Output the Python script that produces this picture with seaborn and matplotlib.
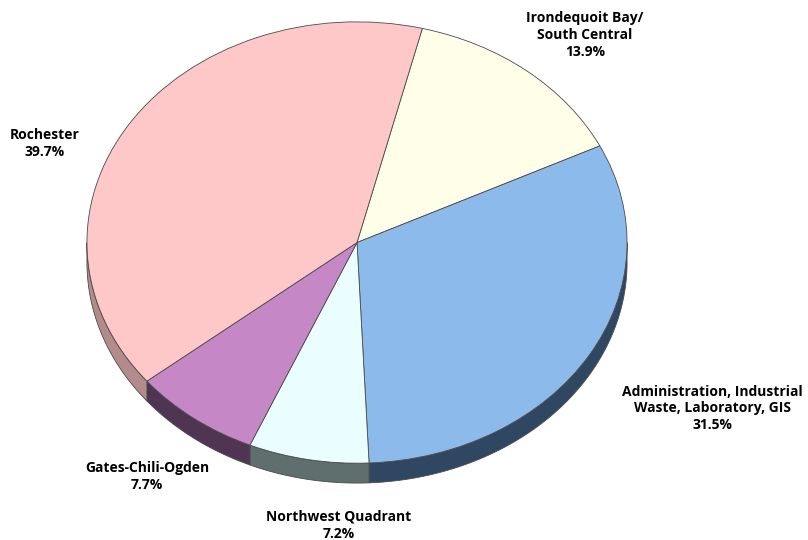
import numpy as np
import matplotlib
matplotlib.use("Agg")
import matplotlib.pyplot as plt
from matplotlib.patches import Polygon
import seaborn as sns

# Share of work by service area (percent)
regions = [
    "Irondequoit Bay/\nSouth Central",
    "Administration, Industrial\nWaste, Laboratory, GIS",
    "Northwest Quadrant",
    "Gates-Chili-Ogden",
    "Rochester",
]
shares = [13.9, 31.5, 7.2, 7.7, 39.7]

top_colors = ["#FFFFE9", "#8CBAEA", "#EAFEFF", "#C587C6", "#FFC8C8"]
side_colors = ["#9a9a86", "#2f4763", "#5f6f6d", "#4f3552", "#b38b8b"]

# label anchor points in pie units (x, y)
label_xy = [(0.844, 0.941), (1.315, -0.751), (-0.067, -1.281),
            (-0.778, -1.059), (-1.156, 0.448)]

sns.set_theme(style="white")
plt.rcParams["font.family"] = ["Open Sans", "DejaVu Sans"]

fig = plt.figure(figsize=(8.08, 5.4), dpi=100)
ax = fig.add_axes([0, 0, 1, 1])

start = 76.0
depth = 0.09
edge = "#4a4a4a"

# visible rim of the tilted disc (lower half only)
fracs = np.array(shares) / sum(shares)
bounds = start - 360 * np.concatenate([[0], np.cumsum(fracs)])
for i in range(len(shares)):
    hi, lo = bounds[i], bounds[i + 1]
    lo_v, hi_v = max(lo, -180.0), min(hi, 0.0)
    if hi_v <= lo_v:
        continue
    t = np.radians(np.linspace(lo_v, hi_v, 80))
    top = np.column_stack([np.cos(t), np.sin(t)])
    bot = np.column_stack([np.cos(t[::-1]), np.sin(t[::-1]) - depth])
    ax.add_patch(Polygon(np.vstack([top, bot]), closed=True,
                         facecolor=side_colors[i], edgecolor=edge,
                         linewidth=0.6, zorder=1))

labels = [f"{r}\n{s}%" for r, s in zip(regions, shares)]
wedges, texts = ax.pie(
    shares, colors=top_colors, startangle=start, counterclock=False,
    labels=labels,
    wedgeprops=dict(edgecolor=edge, linewidth=0.6, zorder=2),
    textprops=dict(fontsize=10, fontweight="bold", color="black",
                   linespacing=1.25),
)
for w in wedges:
    w.set_zorder(2)
for t, (x, y) in zip(texts, label_xy):
    t.set_position((x, y))
    t.set_ha("center")
    t.set_va("center")
    t.set_multialignment("center")

ax.set_aspect("auto")
ax.set_xlim(-1.322, 1.670)
ax.set_ylim(-1.348, 1.099)
ax.axis("off")

fig.savefig("out.png", dpi=100, facecolor="white")
